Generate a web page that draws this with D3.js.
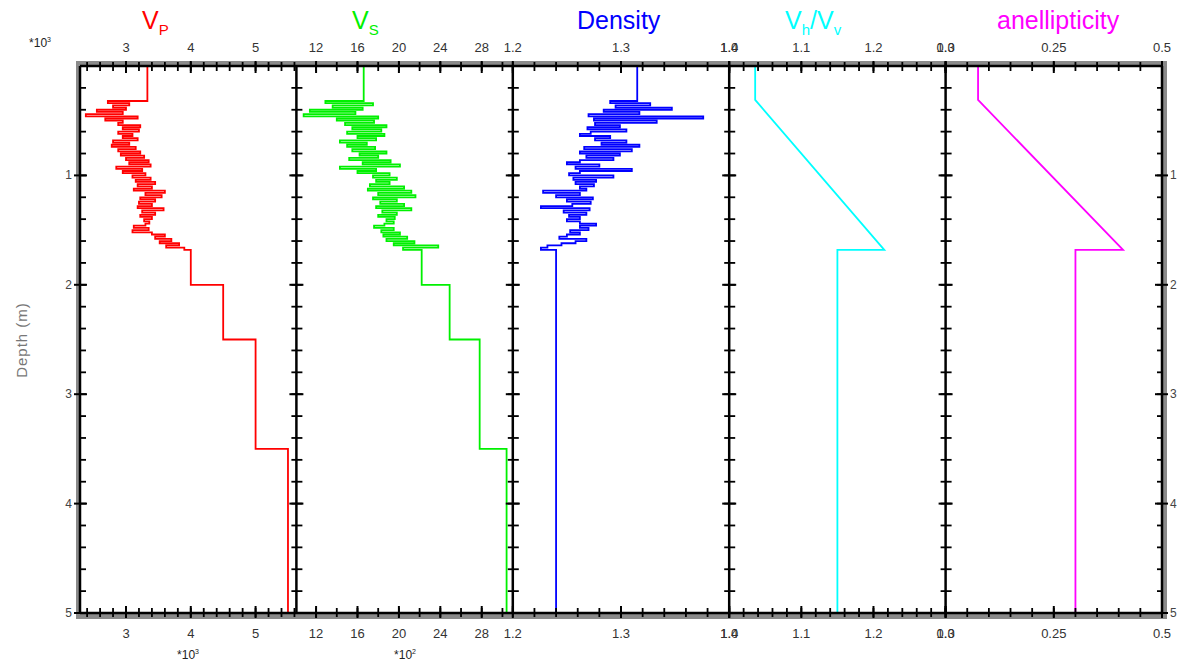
<!DOCTYPE html>
<html>
<head>
<meta charset="utf-8">
<script src="https://cdn.jsdelivr.net/npm/d3@7/dist/d3.min.js"></script>
<style>
body { margin: 0; background: #fff; }
svg { display: block; font-family: "Liberation Sans", Arial, sans-serif; }
</style>
</head>
<body>
<div id="chart"></div>
<script>
// depth in units of 10^3 m
const depthTicks = [1, 2, 3, 4, 5];

// logged interval, one sample every 0.02 (value holds down to the next sample)
const logDepth = [0.32, 0.34, 0.36, 0.38, 0.40, 0.42, 0.44, 0.46, 0.48, 0.50,
    0.52, 0.54, 0.56, 0.58, 0.60, 0.62, 0.64, 0.66, 0.68, 0.70,
    0.72, 0.74, 0.76, 0.78, 0.80, 0.82, 0.84, 0.86, 0.88, 0.90,
    0.92, 0.94, 0.96, 0.98, 1.00, 1.02, 1.04, 1.06, 1.08, 1.10,
    1.12, 1.14, 1.16, 1.18, 1.20, 1.22, 1.24, 1.26, 1.28, 1.30,
    1.32, 1.34, 1.36, 1.38, 1.40, 1.42, 1.44, 1.46, 1.48, 1.50,
    1.52, 1.54, 1.56, 1.58, 1.60, 1.62, 1.64, 1.66];

const vpLog = [2.72, 3.05, 2.80, 3.00, 2.55, 2.95, 2.38, 3.18, 2.68, 2.95,
    2.88, 3.22, 2.95, 3.20, 2.88, 3.10, 2.95, 3.18, 2.80, 3.05,
    2.78, 3.15, 2.88, 3.22, 2.92, 3.28, 3.00, 3.35, 3.05, 3.38,
    2.85, 3.25, 2.95, 3.30, 3.10, 3.38, 3.15, 3.45, 3.18, 3.40,
    3.12, 3.60, 3.30, 3.55, 3.22, 3.45, 3.20, 3.40, 3.18, 3.58,
    3.25, 3.45, 3.22, 3.40, 3.28, 3.36, 3.30, 3.12, 3.35, 3.10,
    3.40, 3.60, 3.45, 3.70, 3.52, 3.82, 3.62, 3.90];

const vsLog = [12.9, 17.5, 13.6, 16.5, 11.4, 15.8, 10.8, 18.0, 14.0, 17.6,
    14.8, 18.8, 15.5, 18.3, 15.0, 18.6, 16.0, 17.8, 14.3, 16.9,
    15.0, 17.7, 15.5, 18.8, 16.2, 18.0, 15.2, 19.2, 16.5, 20.1,
    14.3, 17.8, 16.0, 19.1, 17.5, 19.8, 17.8, 19.1, 17.2, 20.5,
    17.0, 21.2, 18.0, 21.6, 17.5, 19.8, 18.2, 20.5, 17.8, 21.2,
    18.4, 19.8, 18.0, 19.6, 18.8, 19.5, 18.6, 17.6, 19.5, 18.3,
    20.1, 18.5, 20.8, 18.8, 21.5, 19.5, 23.8, 20.4];

const rhoLog = [1.290, 1.327, 1.295, 1.347, 1.284, 1.317, 1.270, 1.376, 1.275, 1.333,
    1.276, 1.299, 1.269, 1.305, 1.272, 1.262, 1.290, 1.276, 1.305, 1.282,
    1.317, 1.266, 1.310, 1.262, 1.299, 1.268, 1.293, 1.262, 1.250, 1.280,
    1.258, 1.310, 1.262, 1.252, 1.293, 1.256, 1.277, 1.258, 1.275, 1.262,
    1.268, 1.228, 1.262, 1.240, 1.274, 1.250, 1.272, 1.255, 1.226, 1.271,
    1.247, 1.268, 1.252, 1.262, 1.250, 1.262, 1.277, 1.262, 1.270, 1.253,
    1.262, 1.250, 1.243, 1.268, 1.258, 1.245, 1.232, 1.226];

// blocky layers: the top layer, then the layers below the logged interval
const layerTop = [0, 1.68, 2.0, 2.5, 3.5];
const vpLayer = [3.33, 4.0, 4.5, 5.0, 5.5];
const vsLayer = [16.6, 22.2, 24.9, 27.8, 30.4];
const rhoLayer = [1.315, 1.24, 1.24, 1.24, 1.24];

// anisotropy profiles (vertices)
const anisoDepth = [0, 0.31, 1.68, 1.68, 5];
const vhvv = [1.036, 1.036, 1.215, 1.15, 1.15];
const anell = [0.075, 0.075, 0.41, 0.30, 0.30];

// tick labels
const vpTicks = [3, 4, 5];
const vsTicks = [12, 16, 20, 24, 28];
const rhoTicks = [1.2, 1.3, 1.4];
const vhvvTicks = [1.0, 1.1, 1.2, 1.3];
const anellTicks = [0, 0.25, 0.5];

const width = 1185, height = 666;
const frameL = 80, frameR = 1162, frameT = 66, frameB = 613;
const panelW = (frameR - frameL) / 5;

const svg = d3.select("#chart").append("svg")
    .attr("width", width)
    .attr("height", height);

const y = d3.scaleLinear().domain([0, 5]).range([frameT, frameB]);

function stepped(tops, values) {
    let pts = [];
    for (let i = 0; i < values.length; i++) {
        let d1 = i + 1 < tops.length ? tops[i + 1] : 5;
        pts.push([values[i], tops[i]]);
        pts.push([values[i], d1]);
    }
    return pts;
}

const allTops = layerTop.slice(0, 1).concat(logDepth, layerTop.slice(1));

const panels = [
    { title: [["V", 0], ["P", 1]], color: "#ff0000", titleX: 142,
      domain: [2.29, 5.63], ticks: vpTicks, minor: 0.2, fmt: d3.format("d"),
      pts: stepped(allTops, vpLayer.slice(0, 1).concat(vpLog, vpLayer.slice(1))) },
    { title: [["V", 0], ["S", 1]], color: "#00f000", titleX: 352,
      domain: [10.1, 31.0], ticks: vsTicks, minor: 2, fmt: d3.format("d"),
      pts: stepped(allTops, vsLayer.slice(0, 1).concat(vsLog, vsLayer.slice(1))) },
    { title: [["Density", 0]], color: "#0000ff", titleX: 577,
      domain: [1.2, 1.4], ticks: rhoTicks, minor: 0.02, fmt: d3.format(".1f"),
      pts: stepped(allTops, rhoLayer.slice(0, 1).concat(rhoLog, rhoLayer.slice(1))) },
    { title: [["V", 0], ["h", 1], ["/V", 0], ["v", 1]], color: "#00ffff", titleX: 785,
      domain: [1.0, 1.3], ticks: vhvvTicks, minor: 0.02, fmt: d3.format(".1f"),
      pts: vhvv.map((v, i) => [v, anisoDepth[i]]) },
    { title: [["anellipticity", 0]], color: "#ff00ff", titleX: 997,
      domain: [0, 0.5], ticks: anellTicks, minor: 0.05, fmt: v => v === 0 ? "0.0" : String(v),
      pts: anell.map((v, i) => [v, anisoDepth[i]]) }
];

// gray shadow round the whole frame
svg.append("rect")
    .attr("x", frameL - 1.5).attr("y", frameT - 2.5)
    .attr("width", frameR - frameL + 4).attr("height", frameB - frameT + 6)
    .attr("fill", "none")
    .attr("stroke", "#8a8a8a")
    .attr("stroke-width", 5);

panels.forEach(function(p, i) {
    let x0 = frameL + i * panelW, x1 = x0 + panelW;
    let x = d3.scaleLinear().domain(p.domain).range([x0, x1]);
    let g = svg.append("g");

    // data line
    g.append("path")
        .datum(p.pts)
        .attr("fill", "none")
        .attr("stroke", p.color)
        .attr("stroke-width", 1.8)
        .attr("d", d3.line().x(d => x(d[0])).y(d => y(d[1])));

    // ticks on top and bottom
    let minors = d3.range(Math.ceil(p.domain[0] / p.minor - 1e-6), Math.floor(p.domain[1] / p.minor + 1e-6) + 1)
        .map(k => k * p.minor);
    [frameT, frameB].forEach(function(yy) {
        let dir = yy === frameT ? 1 : -1;
        g.selectAll(null).data(minors).enter().append("line")
            .attr("x1", d => x(d)).attr("x2", d => x(d))
            .attr("y1", yy - 4 * dir).attr("y2", yy + 5 * dir)
            .attr("stroke", "#000").attr("stroke-width", 1.8);
        g.selectAll(null).data(p.ticks).enter().append("line")
            .attr("x1", d => x(d)).attr("x2", d => x(d))
            .attr("y1", yy - 5 * dir).attr("y2", yy + 7 * dir)
            .attr("stroke", "#000").attr("stroke-width", 2);
    });

    // tick labels
    [52, 638].forEach(function(ty) {
        g.selectAll(null).data(p.ticks).enter().append("text")
            .attr("x", d => x(d)).attr("y", ty)
            .attr("text-anchor", "middle")
            .style("font-size", "13px")
            .style("fill", "#333")
            .text(p.fmt);
    });

    // title
    let t = svg.append("text")
        .attr("x", p.titleX).attr("y", 29)
        .style("font-size", "25px")
        .style("fill", p.color);
    p.title.forEach(function(part, k) {
        t.append("tspan")
            .attr("dy", part[1] ? 6 : (k > 0 ? -6 : 0))
            .style("font-size", part[1] ? "15px" : "25px")
            .text(part[0]);
    });
});

// vertical borders with depth ticks
const yMinor = d3.range(1, 25).map(k => k * 0.2);
for (let i = 0; i <= 5; i++) {
    let bx = frameL + i * panelW;
    let inL = i === 0 ? 0 : 5, inR = i === 5 ? 0 : 6;
    svg.selectAll(null).data(yMinor).enter().append("line")
        .attr("x1", bx - inL).attr("x2", bx + inR)
        .attr("y1", d => y(d)).attr("y2", d => y(d))
        .attr("stroke", "#000").attr("stroke-width", 1.8);
    svg.selectAll(null).data(depthTicks).enter().append("line")
        .attr("x1", bx - (i === 0 ? 6 : 7)).attr("x2", bx + (i === 5 ? 6 : 7))
        .attr("y1", d => y(d)).attr("y2", d => y(d))
        .attr("stroke", "#000").attr("stroke-width", 2);
    svg.append("line")
        .attr("x1", bx).attr("x2", bx)
        .attr("y1", frameT).attr("y2", frameB)
        .attr("stroke", "#000").attr("stroke-width", 2.5);
}
[frameT, frameB].forEach(function(yy) {
    svg.append("line")
        .attr("x1", frameL).attr("x2", frameR)
        .attr("y1", yy).attr("y2", yy)
        .attr("stroke", "#000").attr("stroke-width", 2.5);
});

// depth labels both sides
svg.selectAll(null).data(depthTicks).enter().append("text")
    .attr("x", 72).attr("y", d => y(d) + 4)
    .attr("text-anchor", "end")
    .style("font-size", "12px").style("fill", "#444")
    .text(d => d);
svg.selectAll(null).data(depthTicks).enter().append("text")
    .attr("x", 1170).attr("y", d => y(d) + 4)
    .attr("text-anchor", "start")
    .style("font-size", "12px").style("fill", "#444")
    .text(d => d);

svg.append("text")
    .attr("transform", "translate(27,340) rotate(-90)")
    .attr("text-anchor", "middle")
    .style("font-size", "15px")
    .style("letter-spacing", "1px")
    .style("fill", "#777")
    .text("Depth (m)");

// scale multipliers
function power(xx, yy, e) {
    let t = svg.append("text")
        .attr("x", xx).attr("y", yy)
        .attr("text-anchor", "middle")
        .style("font-size", "12px").style("fill", "#222")
        .text("*10");
    t.append("tspan").attr("dy", -5).style("font-size", "7px").text(e);
}
power(40, 47, "3");
power(188, 659, "3");
power(405, 659, "2");
</script>
</body>
</html>
